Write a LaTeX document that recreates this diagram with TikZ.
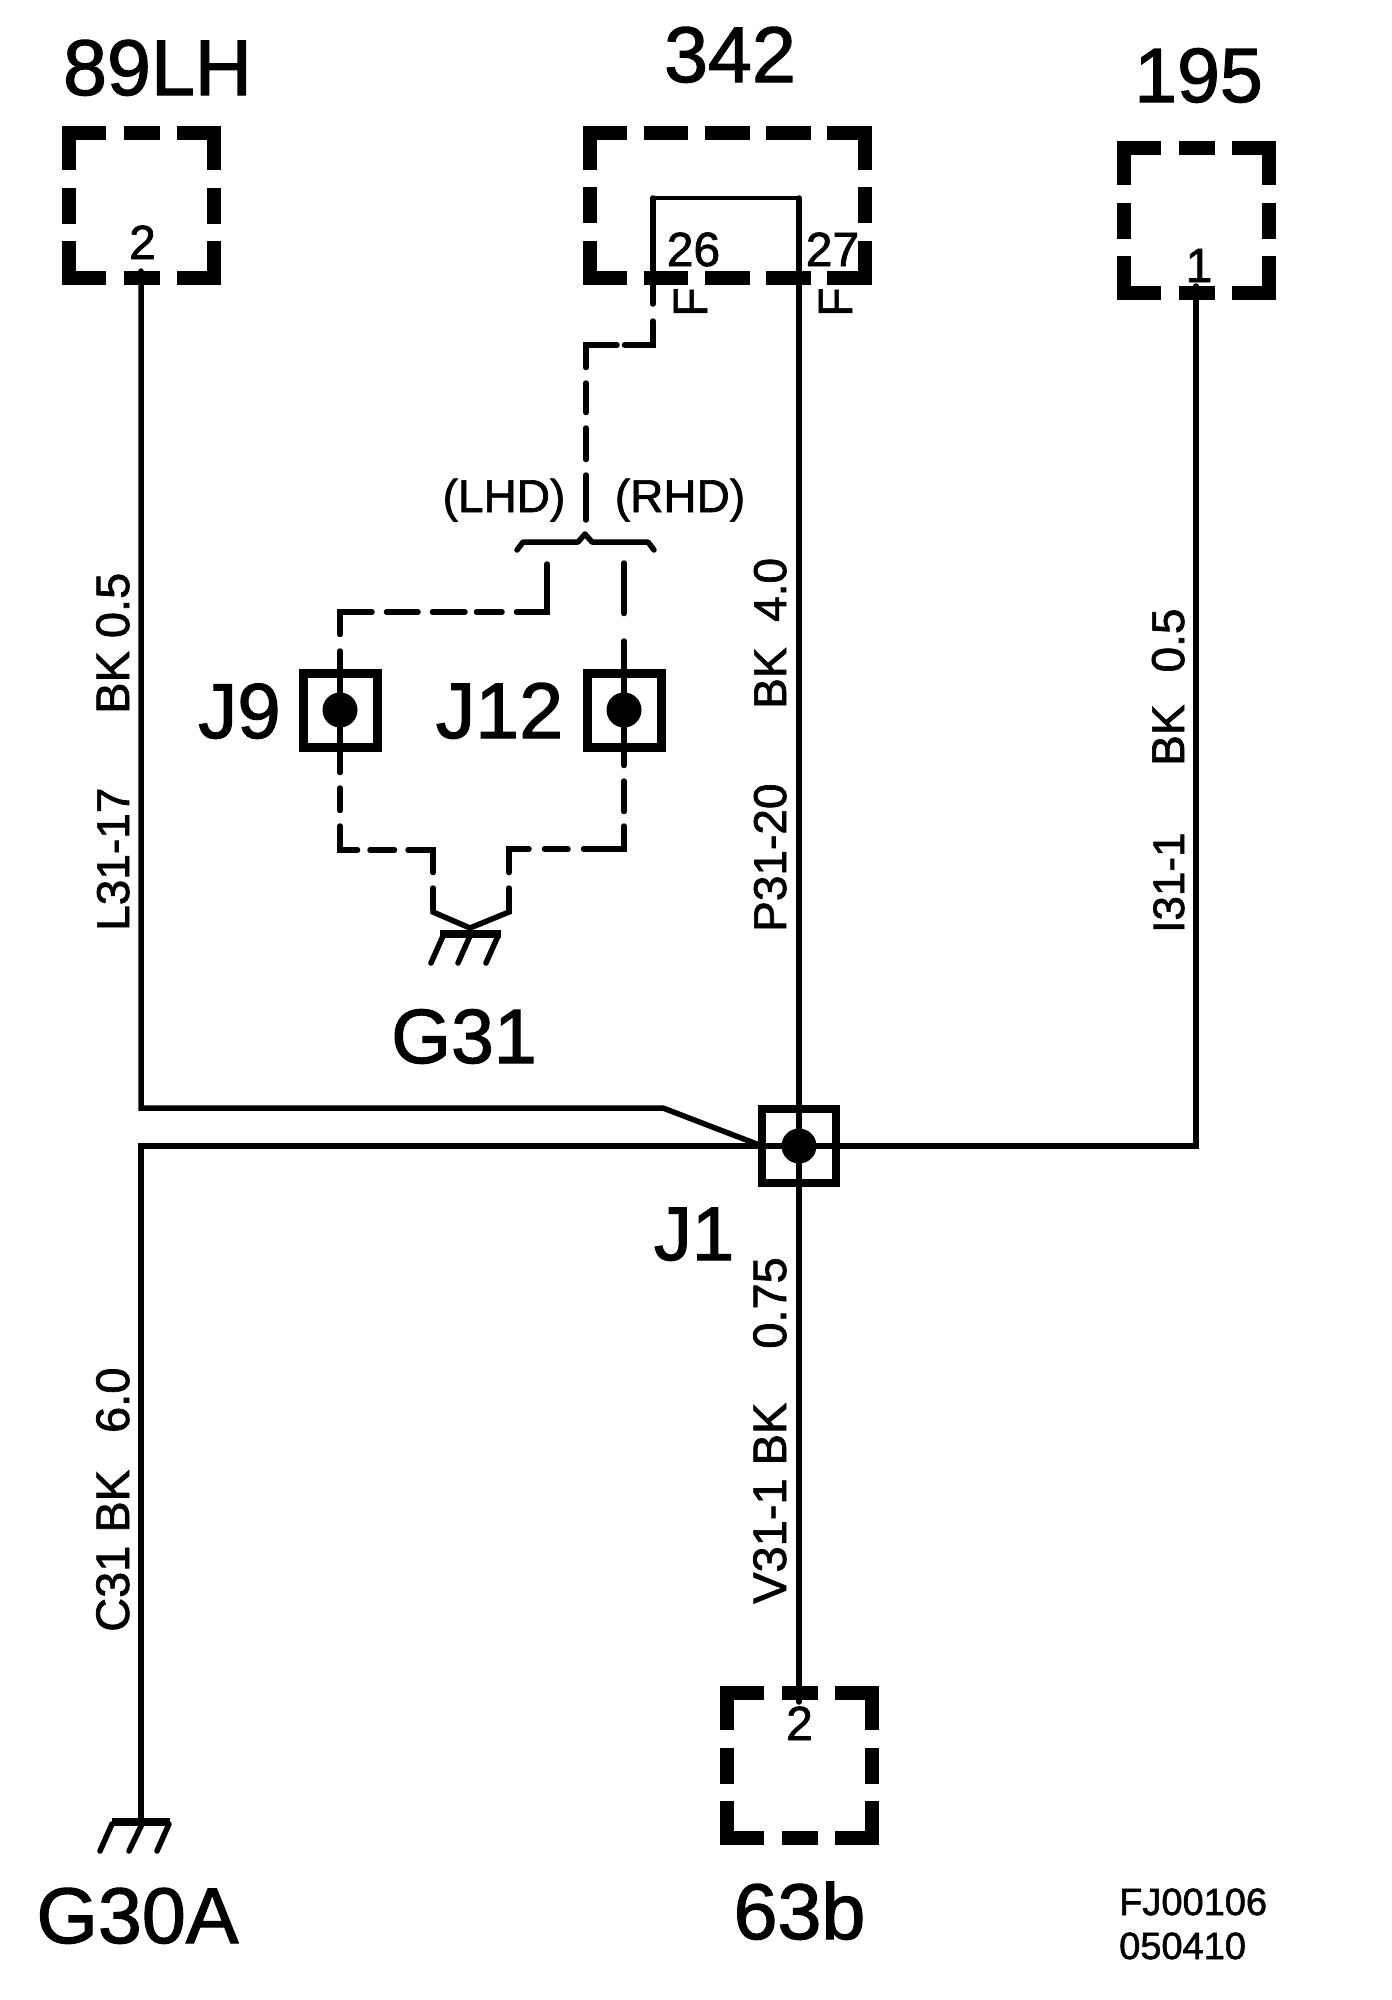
\documentclass[tikz,border=0pt]{standalone}
\usepackage{fontspec}
\setmainfont{Liberation Sans}[BoldFont=Liberation Sans,BoldFeatures={FakeBold=1.5}]
\newcommand{\fsz}[1]{\fontsize{#1}{#1}\selectfont\bfseries}
\tikzset{
	wire/.style={line width=5.5pt,line cap=round,line join=miter},
	thinwire/.style={line width=4pt,line cap=round},
	gndbar/.style={line width=8pt,line cap=butt},
	conbox/.style={draw,line width=14pt,line cap=rect,inner sep=0pt,outer sep=0pt,minimum width=145pt,minimum height=145pt,
		dash pattern=on 30pt off 31.5pt on 22pt off 31.5pt on 30pt off 0pt},
	jbox/.style={draw,rectangle,inner sep=0pt,outer sep=0pt,minimum size=74pt},
	jdot/.style={fill,circle,inner sep=0pt,outer sep=0pt,minimum size=35pt},
	biglab/.style={inner sep=0pt,anchor=base,font=\fsz{79}},
	pinlab/.style={inner sep=0pt,anchor=base,font=\fsz{48}},
	sidelab/.style={inner sep=0pt,rotate=90,anchor=base west,font=\fsz{46}},
	smalllab/.style={inner sep=0pt,anchor=base west,font=\fsz{38}}
}
\begin{document}
\begin{tikzpicture}[x=1pt,y=-1pt]
	\useasboundingbox (0,0) rectangle (1392,2000);

	% connector boxes
	\node[conbox] (box89) at (141.5,205.5) {};
	\node[conbox] (box195) at (1196.5,220.5) {};
	\node[conbox] (box63) at (799.5,1765.5) {};
	\node[draw,line width=14pt,line cap=rect,inner sep=0pt,outer sep=0pt,minimum width=275pt,minimum height=145pt,
		dash pattern=on 30.5pt off 30.5pt on 30.5pt off 30.5pt on 31pt off 30.5pt on 30.5pt off 30.5pt on 30.5pt off 0pt on 30pt off 31.5pt on 22pt off 31.5pt on 30pt off 0pt on 30.5pt off 30.5pt on 30.5pt off 30.5pt on 31pt off 30.5pt on 30.5pt off 30.5pt on 30.5pt off 0pt on 30pt off 31.5pt on 22pt off 31.5pt on 30pt off 0pt] (box342) at (727,205) {};

	\node[biglab] (name89) at (157.5,95) {89LH};
	\node[biglab] (name342) at (730,82) {342};
	\node[biglab,font=\fsz{77}] (name195) at (1198.5,102) {195};
	\node[biglab] (name63) at (799.5,1939) {63b};
	\node[pinlab] (pin89) at (142.5,259) {2};
	\node[pinlab] (pin195) at (1199,282) {1};
	\node[pinlab] (pin63) at (799.5,1740) {2};
	\node[pinlab] (pin26) at (693.5,266) {26};
	\node[pinlab] (pin27) at (832.5,266) {27};
	\node[sidelab,font=\fsz{48}] (f26) at (707,317) {F};
	\node[sidelab,font=\fsz{48}] (f27) at (852,317) {F};

	% splices
	\node[jbox,line width=7.5pt] (jct1) at (799,1146) {};
	\node[jdot] (dot1) at (799,1146) {};
	\node[jbox,line width=9pt] (jct9) at (340,710) {};
	\node[jdot] (dot9) at (340,710) {};
	\node[jbox,line width=9pt] (jct12) at (624,710) {};
	\node[jdot] (dot12) at (624,710) {};
	\node[biglab,font=\fsz{76}] (name1) at (694,1260) {J1};
	\node[biglab,font=\fsz{78}] (name9) at (239.5,738) {J9};
	\node[biglab] (name12) at (499.5,738) {J12};

	\coordinate (p89) at (141,271);
	\coordinate (p195) at (1196,286);
	\coordinate (p63) at (799,1702);
	\coordinate (p26) at (653,198);
	\coordinate (p27) at (799,198);
	\coordinate (g30) at (141,1818);
	\coordinate (g31) at (470,928);

	% solid wires
	\draw[wire] (p89) -- (141,1108) -- (663,1108) -- (jct1.west);
	\draw[wire] (g30) -- (g30 |- jct1) -- (p195 |- jct1) -- (p195);
	\draw[wire] (p27) -- (p63);
	\draw[thinwire] (p26) -- (p27);
	\draw[wire] (p26) -- (653,304);

	% dashed wires
	\draw[wire,dash pattern=on 52.5pt off 7.5pt on 53.5pt off 15.5pt on 29.5pt off 15.5pt on 31.5pt off 15.5pt on 45.5pt]
		(653,321) -- (653,345) -- (586,345) -- (586,520);
	\draw[wire,dash pattern=on 78.5pt off 14.5pt on 25.5pt off 11.5pt on 32.5pt off 14.5pt on 31.5pt off 14.5pt on 54.5pt off 16.5pt on 121.5pt off 15.5pt on 22.5pt off 15.5pt on 41.5pt off 12.5pt on 24.5pt off 13.5pt on 47.5pt off 15.5pt on 21.5pt]
		(547,564) -- (547,612) -- (jct9 |- 547,612) -- (jct9 |- 340,850) -- (433,850) -- (433,909);
	\draw[wire,dash pattern=on 50.5pt off 27.5pt on 124.5pt off 15.5pt on 30.5pt off 14.5pt on 63.5pt off 15.5pt on 23.5pt off 15.5pt on 43.5pt off 15.5pt on 21.5pt]
		(624,563) -- (jct12 |- 624,849) -- (509,849) -- (509,909);
	\draw[wire,line cap=butt] (433,905) -- (433,912) -- (g31) -- (509,912) -- (509,905);

	% brace
	\draw[wire,line join=round] (517,550) -- (523,542) -- (578,542) -- (585,534) -- (592,542) -- (648,542) -- (654,550);
	\node[inner sep=0pt,anchor=base,font=\fsz{46}] (lhd) at (504,512) {(LHD)};
	\node[inner sep=0pt,anchor=base,font=\fsz{46}] (rhd) at (680,512) {(RHD)};

	% grounds
	\draw[gndbar] (112,1822) -- (170,1822);
	\draw[wire] (112,1824) -- (100,1851);
	\draw[wire] (142,1824) -- (129,1851);
	\draw[wire] (169,1824) -- (157,1851);
	\draw[gndbar] (440,934) -- (501,934);
	\draw[wire] (443,936) -- (431,963);
	\draw[wire] (470,936) -- (458,963);
	\draw[wire] (498,936) -- (486,963);
	\node[biglab] (nameg30) at (137.5,1943) {G30A};
	\node[biglab,font=\fsz{77}] (nameg31) at (464,1063) {G31};

	% wire labels
	\node[sidelab,font=\fsz{47}] (l1) at (129,714) {BK 0.5};
	\node[sidelab] (l2) at (129,931) {L31-17};
	\node[sidelab,font=\fsz{47}] (l3) at (129,1632) {C31 BK\hspace{37pt}6.0};
	\node[sidelab] (l4) at (786,709) {BK\ \ 4.0};
	\node[sidelab] (l5) at (786,932) {P31-20};
	\node[sidelab,font=\fsz{47}] (l6) at (786,1604) {V31-1 BK\hspace{54pt}0.75};
	\node[sidelab] (l7) at (1184,766) {BK\hspace{32pt}0.5};
	\node[sidelab,font=\fsz{44}] (l8) at (1184,933) {I31-1};

	\node[smalllab] (code1) at (1119,1915) {FJ00106};
	\node[smalllab] (code2) at (1119,1959) {050410};
\end{tikzpicture}
\end{document}
